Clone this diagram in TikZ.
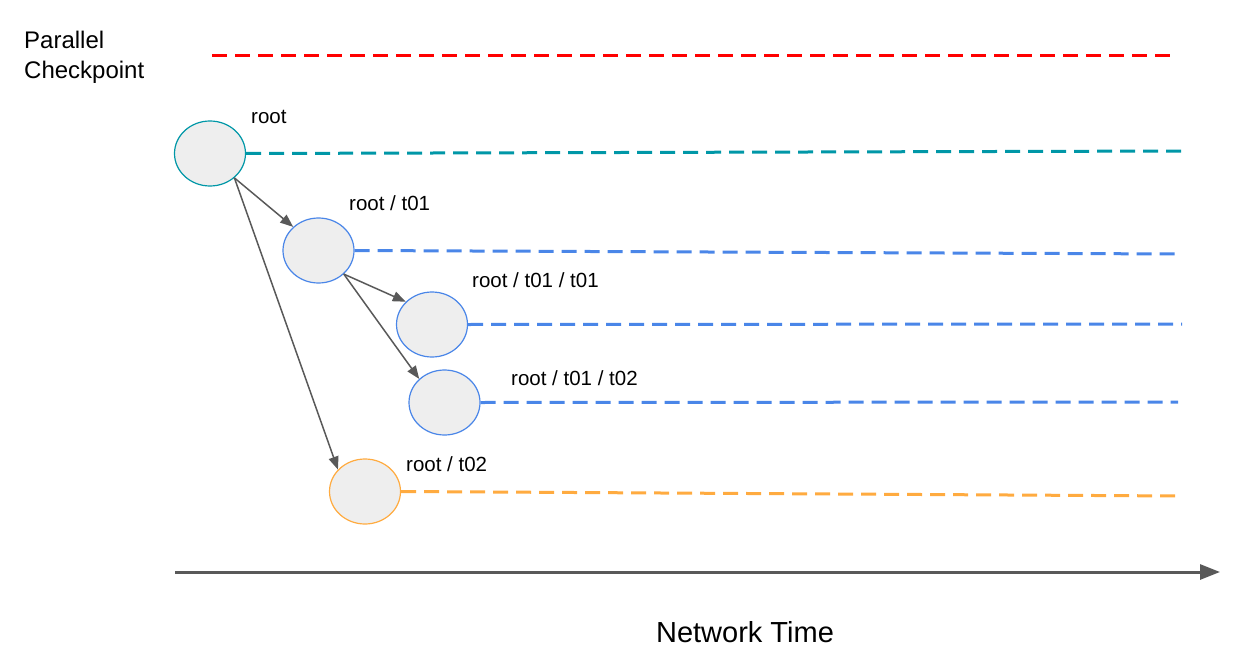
\documentclass[tikz,border=0pt]{standalone}
\usepackage{fontspec}
\setmainfont{Liberation Sans}
\usetikzlibrary{arrows.meta,shapes.geometric}
\definecolor{tealc}{RGB}{0,151,167}
\definecolor{bluec}{RGB}{74,134,232}
\definecolor{orangec}{RGB}{255,171,64}
\definecolor{redc}{RGB}{255,0,0}
\definecolor{fillc}{RGB}{238,238,238}
\definecolor{arrc}{RGB}{89,89,89}
\begin{document}
\begin{tikzpicture}[x=1pt,y=-1pt,
  proc/.style={ellipse,draw,fill=fillc,line width=1.2pt,minimum width=71pt,minimum height=65pt,inner sep=0pt},
  tline/.style={line width=3pt,dash pattern=on 15pt off 8pt},
  lbl/.style={anchor=west,inner sep=0pt,font=\fontsize{20.5}{24}\selectfont},
  conn/.style={draw=arrc,line width=1.5pt,-{Triangle[length=13pt,width=10pt]}}]
\useasboundingbox (0,0) rectangle (1252,663);
\node[anchor=west,align=left,inner sep=0pt,font=\fontsize{24}{30}\selectfont] (title) at (24,57) {Parallel\\Checkpoint};
\coordinate (rs) at (212,56);
\coordinate (re) at (1176,56);
\draw[tline,redc] (rs) -- (re);

\node[proc,draw=tealc] (root) at (210,153.5) {};
\node[proc,draw=bluec] (a) at (318.5,250.5) {};
\node[proc,draw=bluec] (aa) at (432,324.5) {};
\node[proc,draw=bluec] (ab) at (444.5,402.5) {};
\node[proc,draw=orangec] (b) at (365,491.5) {};

\node[lbl] (lroot) at (251,117) {root};
\node[lbl] (la) at (349,203) {root / t01};
\node[lbl] (laa) at (472,280) {root / t01 / t01};
\node[lbl] (lab) at (511,378) {root / t01 / t02};
\node[lbl] (lb) at (406,464) {root / t02};

\coordinate (e1) at (1183,151);
\coordinate (e2) at (1180,254);
\coordinate (e3) at (1182,324);
\coordinate (e4) at (1178,402);
\coordinate (e5) at (1182,496);
\draw[tline,tealc] (root.east) -- (e1);
\draw[tline,bluec] (a.east) -- (e2);
\draw[tline,bluec] (aa.east) -- (e3);
\draw[tline,bluec] (ab.east) -- (e4);
\draw[tline,orangec] (b.east) -- (e5);

\draw[conn] (root.-45) -- (a.137);
\draw[conn] (root.-45) -- (b.141);
\draw[conn] (a.-43) -- (aa.139);
\draw[conn] (a.-43) -- (ab.137);

\coordinate (xs) at (175,572);
\coordinate (xe) at (1220,572);
\draw[draw=arrc,line width=3pt,-{Triangle[length=20pt,width=15pt]}] (xs) -- (xe);
\node[font=\fontsize{29}{34}\selectfont,inner sep=0pt] (xl) at (745,632) {Network Time};
\end{tikzpicture}
\end{document}
